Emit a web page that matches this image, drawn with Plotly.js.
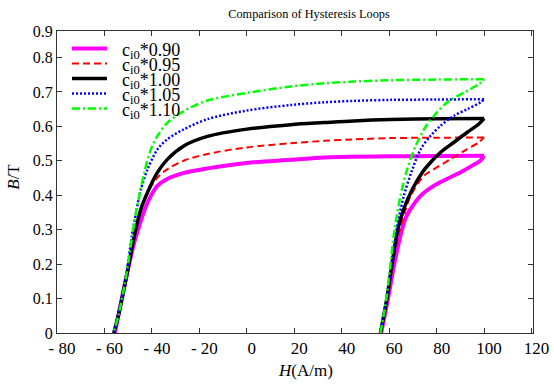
<!DOCTYPE html>
<html><head><meta charset="utf-8">
<script src="https://cdn.plot.ly/plotly-3.0.1.min.js"></script>
<style>html,body{margin:0;padding:0;background:#fff}#chart{width:554px;height:385px}</style>
</head><body><div id="chart"></div>
<script>
// ---- data ----
// each loop: ascending branch from B=0 up to the tip, then the descending branch back to B=0
const seriesNames = ['c<sub>i0</sub>*0.90','c<sub>i0</sub>*0.95','c<sub>i0</sub>*1.00','c<sub>i0</sub>*1.05','c<sub>i0</sub>*1.10'];

const hC090 = [56.6, 59.5, 62.3, 65.5, 67.0, 69.1, 73.3, 78.9, 84.5, 90.1, 95.0, 98.5, 100, 80, 60.6, 45, 32.6, 18.5, 0, -16.6, -26.4, -33.4, -37.6, -40.4, -42.9, -45.3, -47.4, -50.0, -53.0, -55.6];
const bC090 = [0, 0.10, 0.206, 0.303, 0.335, 0.361, 0.399, 0.428, 0.448, 0.467, 0.486, 0.501, 0.515, 0.514, 0.513, 0.512, 0.510, 0.503, 0.494, 0.478, 0.465, 0.448, 0.428, 0.399, 0.361, 0.312, 0.264, 0.187, 0.090, 0];

const hC095 = [56.5, 59.4, 61.8, 64.6, 66.8, 69.1, 74.7, 78.9, 85.9, 92.9, 97.8, 100, 80, 60.6, 45, 32.6, 18.5, 0, -16.6, -26.4, -33.4, -37.6, -41.8, -44.6, -47.0, -50.0, -53.0, -55.9];
const bC095 = [0, 0.10, 0.206, 0.303, 0.355, 0.399, 0.457, 0.476, 0.505, 0.534, 0.554, 0.568, 0.567, 0.566, 0.562, 0.558, 0.551, 0.539, 0.520, 0.501, 0.476, 0.452, 0.409, 0.361, 0.300, 0.195, 0.095, 0];

const hC100 = [56.3, 59.0, 61.3, 63.7, 66.2, 69.8, 74.0, 77.5, 81.7, 87.3, 92.9, 97.8, 100, 80, 60.6, 45, 32.6, 18.5, 0, -16.6, -26.4, -33.4, -37.6, -41.8, -44.6, -47.4, -50.9, -53.8, -56.1];
const bC100 = [0, 0.10, 0.206, 0.303, 0.361, 0.418, 0.467, 0.496, 0.525, 0.554, 0.583, 0.607, 0.623, 0.622, 0.620, 0.616, 0.611, 0.605, 0.592, 0.571, 0.544, 0.505, 0.467, 0.409, 0.361, 0.283, 0.158, 0.061, 0];

const hC105 = [56.3, 58.9, 61.1, 63.2, 66.2, 69.8, 73.3, 77.5, 81.7, 87.3, 92.9, 98.5, 100, 80, 60.6, 45, 32.6, 18.5, 0, -16.6, -26.4, -33.4, -37.6, -41.8, -44.6, -46.9, -48.5, -51.0, -53.8, -56.1];
const bC105 = [0, 0.10, 0.206, 0.303, 0.399, 0.476, 0.534, 0.573, 0.602, 0.631, 0.650, 0.670, 0.679, 0.678, 0.677, 0.674, 0.670, 0.662, 0.646, 0.621, 0.592, 0.563, 0.534, 0.476, 0.418, 0.341, 0.280, 0.160, 0.065, 0];

const hC110 = [56.3, 58.8, 60.6, 62.3, 64.8, 67.6, 71.2, 74.7, 78.9, 84.5, 91.5, 97.8, 100, 80, 60.6, 45, 32.6, 18.5, 0, -16.6, -26.4, -33.4, -37.6, -40.4, -43.2, -45.3, -47.4, -49.2, -51.5, -54.0, -56.2];
const bC110 = [0, 0.10, 0.206, 0.303, 0.399, 0.476, 0.544, 0.592, 0.631, 0.670, 0.698, 0.723, 0.737, 0.736, 0.734, 0.730, 0.725, 0.716, 0.697, 0.675, 0.645, 0.611, 0.573, 0.534, 0.467, 0.399, 0.322, 0.240, 0.140, 0.055, 0];

const xTickVals = [-80, -60, -40, -20, 0, 20, 40, 60, 80, 100, 120];
const xTickLabels = ['- 80', '- 60', '- 40', '- 20', '0', '20', '40', '60', '80', '100', '120'];
const yTickVals = [0, 0.1, 0.2, 0.3, 0.4, 0.5, 0.6, 0.7, 0.8, 0.877];
const yTickLabels = ['0', '0.1', '0.2', '0.3', '0.4', '0.5', '0.6', '0.7', '0.8', '0.9'];

// ---- styles ----
const xs = [hC090, hC095, hC100, hC105, hC110];
const ys = [bC090, bC095, bC100, bC105, bC110];
const styles = [
  {color: '#FF00FF', width: 4, dash: 'solid'},
  {color: '#FF0000', width: 2, dash: '7px,4px'},
  {color: '#000000', width: 3.5, dash: 'solid'},
  {color: '#0000FF', width: 2.5, dash: '2px,2px'},
  {color: '#00FF00', width: 2.5, dash: '8px,3px,2px,3px'}
];

const traces = [];
xs.forEach((x, i) => {
  const y = ys[i];
  // split the loop at its tip (largest H) so each branch is smoothed on its own
  let tip = 0;
  x.forEach((v, k) => { if (v > x[tip]) tip = k; });
  const line = {color: styles[i].color, width: styles[i].width, dash: styles[i].dash, shape: 'spline', smoothing: 0.9};
  traces.push({type: 'scatter', mode: 'lines', x: x.slice(0, tip + 1), y: y.slice(0, tip + 1),
               name: seriesNames[i], legendgroup: 'g' + i, showlegend: true, line: line, hoverinfo: 'skip'});
  traces.push({type: 'scatter', mode: 'lines', x: x.slice(tip), y: y.slice(tip),
               name: seriesNames[i], legendgroup: 'g' + i, showlegend: false, line: line, hoverinfo: 'skip'});
});

const FONT = 'Liberation Serif';
const AX = '#333333';

const layout = {
  width: 554, height: 385,
  margin: {l: 57, r: 21, t: 30.7, b: 51.7, pad: 0},
  paper_bgcolor: '#ffffff', plot_bgcolor: '#ffffff',
  font: {family: FONT, color: '#000000', size: 16},
  title: {text: 'Comparison of Hysteresis Loops', font: {family: FONT, size: 12.3, color: '#000'},
          x: 309 / 554, xref: 'container', xanchor: 'center', y: 1 - 14/385, yref: 'container', yanchor: 'middle'},
  xaxis: {range: [-80, 120.6], tickmode: 'array', tickvals: xTickVals, ticktext: xTickLabels,
          ticks: 'inside', ticklen: 5, tickwidth: 1, tickcolor: AX, showline: true, linecolor: AX, linewidth: 1,
          mirror: 'ticks', showgrid: false, zeroline: false,
          tickfont: {family: FONT, size: 17, color: '#000'}, ticklabelshift: 5,
          title: {text: '<i>H</i>(A/m)', font: {family: FONT, size: 17, color: '#000'}, standoff: 6}},
  yaxis: {range: [0, 0.877], tickmode: 'array', tickvals: yTickVals, ticktext: yTickLabels,
          ticks: 'inside', ticklen: 5, tickwidth: 1, tickcolor: AX, showline: true, linecolor: AX, linewidth: 1,
          mirror: 'ticks', showgrid: false, zeroline: false,
          tickfont: {family: FONT, size: 16, color: '#000'},
          title: {text: '<i>B</i>/T', font: {family: FONT, size: 17, color: '#000'}, standoff: 8}},
  showlegend: true,
  legend: {x: 0.0525, y: 1, xref: 'paper', yref: 'paper', xanchor: 'left', yanchor: 'top',
           bgcolor: 'rgba(0,0,0,0)', borderwidth: 0, font: {family: FONT, size: 18, color: '#000'}, tracegroupgap: 0}
};

function shiftGroup(el, dx, dy) {
  if (!el) return;
  const tr = el.getAttribute('transform') || '';
  el.setAttribute('transform', 'translate(' + dx + ',' + dy + ') ' + tr);
}

function finishLayout(gd) {
  // tighter legend rows and longer line samples, as in the reference
  const svg = gd.querySelector('.main-svg');
  const sctm = svg.getScreenCTM();
  const sb = gd.querySelector('.legend .scrollbox');
  if (sb) sb.removeAttribute('clip-path');
  const items = gd.querySelectorAll('.legend .traces');
  items.forEach(function (el, i) {
    const m = el.getScreenCTM();
    const ox = m.e - sctm.e, oy = m.f - sctm.f;
    const tr = el.getAttribute('transform') || '';
    const mm = /translate\(\s*([-\d.e]+)[\s,]+([-\d.e]+)/.exec(tr);
    const tx = mm ? +mm[1] : 0, ty = mm ? +mm[2] : 0;
    const wantX = 82, wantY = 48.5 + 15 * i;
    el.setAttribute('transform', 'translate(' + (tx + wantX - ox) + ',' + (ty + wantY - oy) + ')');
    el.querySelectorAll('.legendlines path').forEach(function (p) { p.setAttribute('d', 'M-10,0h35'); });
  });
  // axis titles sit slightly off-centre in the reference
  shiftGroup(gd.querySelector('.g-xtitle'), 11, 0);
  shiftGroup(gd.querySelector('.g-ytitle'), 0, -5);
}

const gd = document.getElementById('chart');
Plotly.newPlot(gd, traces, layout, {displayModeBar: false, staticPlot: true}).then(finishLayout);
</script></body></html>
